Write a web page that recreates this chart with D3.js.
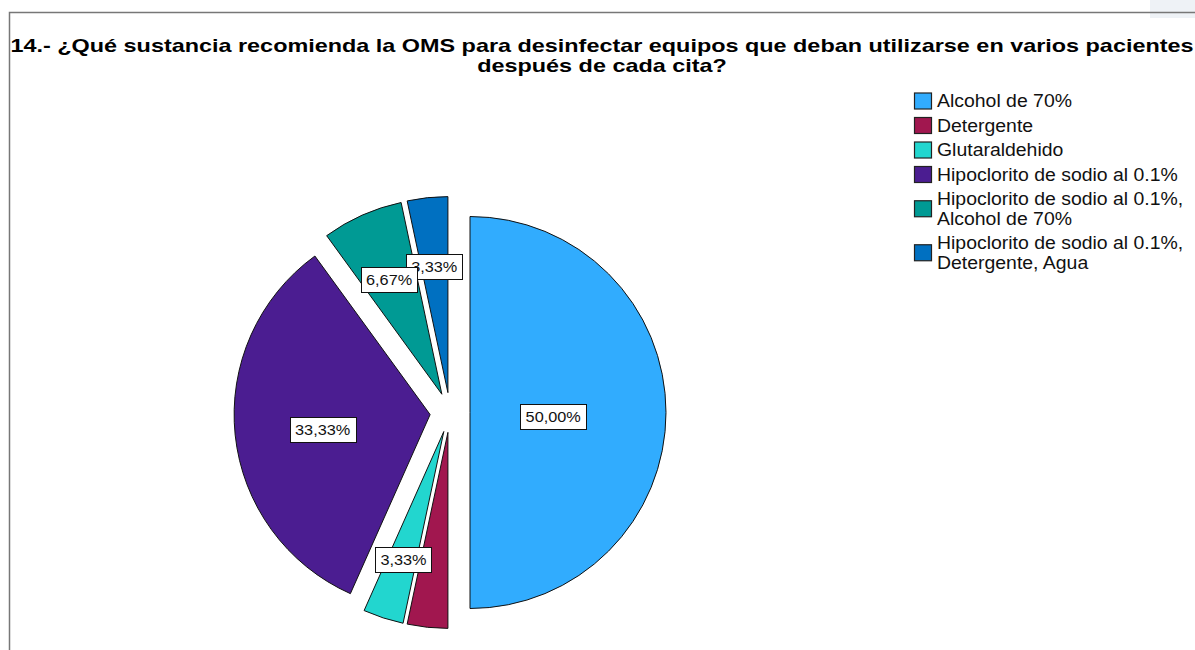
<!DOCTYPE html>
<html>
<head>
<meta charset="utf-8">
<script src="https://cdn.jsdelivr.net/npm/d3@7"></script>
<style>
  body { margin: 0; background: #fff; }
  text { font-family: "Liberation Sans", Arial, sans-serif; }
</style>
</head>
<body>
<div id="chart"></div>
<script>
// data (30 answers)
const categories = [
  "Alcohol de 70%",
  "Detergente",
  "Glutaraldehido",
  "Hipoclorito de sodio al 0.1%",
  "Hipoclorito de sodio al 0.1%, Alcohol de 70%",
  "Hipoclorito de sodio al 0.1%, Detergente, Agua"
]
const counts = [15, 1, 1, 10, 2, 1]
const colors = ["#31acfe", "#a1174f", "#22d6cf", "#4b1d91", "#009a94", "#0070c1"]
// legend text split in lines like the original
const legendLines = [
  ["Alcohol de 70%"],
  ["Detergente"],
  ["Glutaraldehido"],
  ["Hipoclorito de sodio al 0.1%"],
  ["Hipoclorito de sodio al 0.1%,", "Alcohol de 70%"],
  ["Hipoclorito de sodio al 0.1%,", "Detergente, Agua"]
]
// the Detergente label is hidden under the other 3,33% one in the original
const showLabel = [true, false, true, true, true, true]
const titleLines = [
  "14.- ¿Qué sustancia recomienda la OMS para desinfectar equipos que deban utilizarse en varios pacientes",
  "después de cada cita?"
]

const W = 1195, H = 650
const svg = d3.select("#chart").append("svg")
  .attr("width", W)
  .attr("height", H)

// the original font is wide, so stretch text a bit horizontally
function stretch(sel, k) {
  sel.each(function() {
    const w = this.getComputedTextLength()
    d3.select(this).attr("textLength", w * k).attr("lengthAdjust", "spacingAndGlyphs")
  })
}

// window frame
svg.append("rect").attr("x", 1150).attr("y", 0).attr("width", 45).attr("height", 18).attr("fill", "#eef2f6")
svg.append("path")
  .attr("d", `M9.5,${H} L9.5,12.5 L${W},12.5`)
  .attr("fill", "none")
  .attr("stroke", "#777")
  .attr("stroke-width", 1.5)

// title
const title = svg.append("g").selectAll("text")
  .data(titleLines)
  .enter().append("text")
    .attr("x", 602)
    .attr("y", (d, i) => 52 + i * 20)
    .attr("text-anchor", "middle")
    .style("font-size", "19px")
    .style("font-weight", "bold")
    .attr("fill", "#000")
    .text(d => d)
const tk = 1183 / title.node().getComputedTextLength()
stretch(title, tk)

// pie
const cx = 450, cy = 412.5, R = 196, explode = 20
const total = d3.sum(counts)
const pie = d3.pie().sort(null).value(d => d)
const arcs = pie(counts)
const arc = d3.arc().innerRadius(0).outerRadius(R)

function offset(a, r) {
  const m = (a.startAngle + a.endAngle) / 2
  return [cx + r * Math.sin(m), cy - r * Math.cos(m)]
}

const g = svg.append("g")
g.selectAll("path")
  .data(arcs)
  .enter().append("path")
    .attr("transform", d => {
      const p = offset(d, explode)
      return `translate(${p[0]},${p[1]})`
    })
    .attr("d", arc)
    .attr("fill", (d, i) => colors[i])
    .attr("stroke", "#111")
    .attr("stroke-width", 1)

// labels at sector centroid, drawn last-first so 6,67% sits on top
const fmt = v => (v * 100 / total).toFixed(2).replace(".", ",") + "%"
const labelData = arcs.map((d, i) => ({ d, i })).filter(o => showLabel[o.i]).reverse()
labelData.forEach(o => {
  const half = (o.d.endAngle - o.d.startAngle) / 2
  const dist = 2 * R * Math.sin(half) / (3 * half)
  const m = (o.d.startAngle + o.d.endAngle) / 2
  const base = offset(o.d, explode)
  const x = base[0] + dist * Math.sin(m)
  const y = base[1] - dist * Math.cos(m) + 3
  const lg = svg.append("g")
  const rect = lg.append("rect")
  const t = lg.append("text")
    .attr("x", x)
    .attr("y", y + 6)
    .attr("text-anchor", "middle")
    .style("font-size", "15.5px")
    .attr("fill", "#111")
    .text(fmt(o.d.data))
  stretch(t, 1.05)
  const bw = t.node().getComputedTextLength() * 1.05
  rect.attr("x", Math.round(x - bw / 2 - 4) + 0.5)
    .attr("y", Math.round(y - 12) + 0.5)
    .attr("width", Math.round(bw + 8))
    .attr("height", 25)
    .attr("fill", "#fff")
    .attr("stroke", "#111")
    .attr("stroke-width", 1)
})

// legend
const leg = svg.append("g")
let yy = 101
legendLines.forEach((lines, i) => {
  const top = yy
  lines.forEach((line, j) => {
    const t = leg.append("text")
      .attr("x", 937)
      .attr("y", yy + 6)
      .style("font-size", "17.5px")
      .attr("fill", "#111")
      .text(line)
    stretch(t, 1.11)
    if (j < lines.length - 1) yy += 19.5
  })
  const mid = (top + yy) / 2
  leg.append("rect")
    .attr("x", 914.5)
    .attr("y", mid - 8)
    .attr("width", 17)
    .attr("height", 16)
    .attr("fill", colors[i])
    .attr("stroke", "#222")
    .attr("stroke-width", 1.2)
  yy += 24.5
})
</script>
</body>
</html>
